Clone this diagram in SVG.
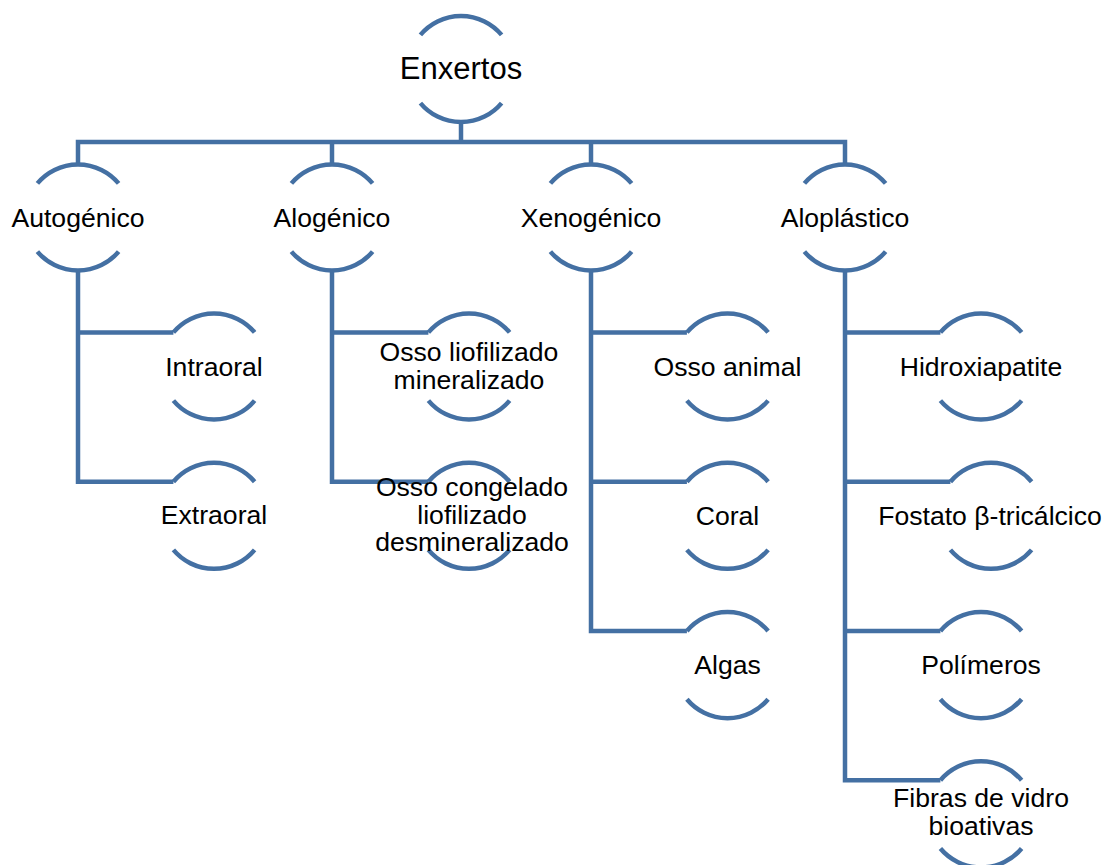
<svg xmlns="http://www.w3.org/2000/svg" xmlns:xlink="http://www.w3.org/1999/xlink" width="1107" height="865" viewBox="0 0 1107 865">
<style>
.ln{fill:none;stroke:#4470a3;stroke-width:4.5;stroke-linejoin:miter}
.t{font-family:"Liberation Sans",Arial,sans-serif;font-size:26.6px;fill:#000;text-anchor:middle}
.t0{font-size:31px}
</style>
<defs>
<path id="arcs" class="ln" d="M-40.6,-34.1 A53,53 0 0 1 40.6,-34.1 M-40.6,34.1 A53,53 0 0 0 40.6,34.1"/>
</defs>
<rect width="1107" height="865" fill="#fff"/>
<g id="connectors" class="ln">
<path d="M461,122 V142"/>
<path d="M78,164.5 V142 H845 V164.5"/>
<path d="M332,142 V164.5"/>
<path d="M591,142 V164.5"/>
<path d="M78,270.5 V481.7 H173.4 M78,332.4 H173.4"/>
<path d="M332,270.5 V481.7 H428.4 M332,332.4 H428.4"/>
<path d="M591,270.5 V631 H686.9 M591,332.4 H686.9 M591,481.7 H686.9"/>
<path d="M845,270.5 V780.3 H940.4 M845,332.4 H940.4 M845,481.7 H950.4 M845,631 H940.4"/>
</g>
<g id="n-enxertos"><use href="#arcs" transform="translate(461,69)"/><text class="t t0" x="461" y="78.5">Enxertos</text></g>
<g id="n-autogenico"><use href="#arcs" transform="translate(78,217.5)"/><text class="t" x="78" y="227">Autogénico</text></g>
<g id="n-alogenico"><use href="#arcs" transform="translate(332,217.5)"/><text class="t" x="332" y="227">Alogénico</text></g>
<g id="n-xenogenico"><use href="#arcs" transform="translate(591,217.5)"/><text class="t" x="591" y="227">Xenogénico</text></g>
<g id="n-aloplastico"><use href="#arcs" transform="translate(845,217.5)"/><text class="t" x="845" y="227">Aloplástico</text></g>
<g id="n-intraoral"><use href="#arcs" transform="translate(214,366.5)"/><text class="t" x="214" y="375.5">Intraoral</text></g>
<g id="n-extraoral"><use href="#arcs" transform="translate(214,515.8)"/><text class="t" x="214" y="523.5">Extraoral</text></g>
<g id="n-osso-liof-min"><use href="#arcs" transform="translate(469,366.5)"/><text class="t" x="469" y="361"><tspan x="469">Osso liofilizado</tspan><tspan x="469" dy="27.5">mineralizado</tspan></text></g>
<g id="n-osso-cong"><use href="#arcs" transform="translate(469,515.8)"/><text class="t" x="472" y="496"><tspan x="472">Osso congelado</tspan><tspan x="472" dy="27.5">liofilizado</tspan><tspan x="472" dy="27.5">desmineralizado</tspan></text></g>
<g id="n-osso-animal"><use href="#arcs" transform="translate(727.5,366.5)"/><text class="t" x="727.5" y="375.5">Osso animal</text></g>
<g id="n-coral"><use href="#arcs" transform="translate(727.5,515.8)"/><text class="t" x="727.5" y="524.5">Coral</text></g>
<g id="n-algas"><use href="#arcs" transform="translate(727.5,665.1)"/><text class="t" x="727.5" y="673.5">Algas</text></g>
<g id="n-hidroxiapatite"><use href="#arcs" transform="translate(981,366.5)"/><text class="t" x="981" y="375.5">Hidroxiapatite</text></g>
<g id="n-fostato"><use href="#arcs" transform="translate(991,515.8)"/><text class="t" x="990" y="524.5">Fostato β-tricálcico</text></g>
<g id="n-polimeros"><use href="#arcs" transform="translate(981,665.1)"/><text class="t" x="981" y="673.5">Polímeros</text></g>
<g id="n-fibras"><use href="#arcs" transform="translate(981,814.4)"/><text class="t" x="981" y="807"><tspan x="981">Fibras de vidro</tspan><tspan x="981" dy="28">bioativas</tspan></text></g>
</svg>
